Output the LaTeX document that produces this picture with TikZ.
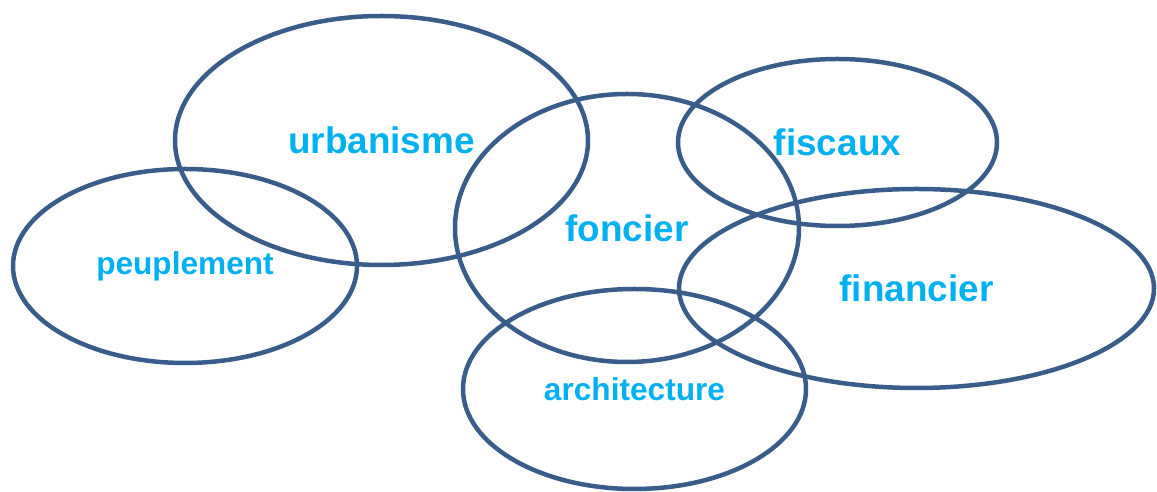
\documentclass[tikz,border=0pt]{standalone}
\usepackage{fontspec}
\setmainfont{Liberation Sans}
\usepackage{xcolor}
\usetikzlibrary{shapes.geometric}
\definecolor{ringblue}{HTML}{385D8A}
\definecolor{labelcyan}{HTML}{00B0F0}
\tikzset{
  ring/.style 2 args={draw=ringblue, line width=0.09cm, ellipse, inner sep=0pt,
    minimum width=#1*0.02cm, minimum height=#2*0.02cm, align=center},
  biglabel/.style={text=labelcyan, font=\bfseries\fontsize{21}{25}\selectfont},
  smalllabel/.style={text=labelcyan, font=\bfseries\fontsize{18}{22}\selectfont}
}
\begin{document}
\begin{tikzpicture}[x=0.02cm, y=-0.02cm]
\useasboundingbox (0,0) rectangle (1157,492);

% Nodes
\node[ring={413}{249}, biglabel] (urb) at (381.5,140.5) {urbanisme};
\node[ring={344}{194}, smalllabel] (peu) at (185,266) {peuplement};
\node[ring={344}{268}, biglabel] (fon) at (627,228) {foncier};
\node[ring={319}{167}, biglabel] (fis) at (837.5,142.5) {fiscaux};
\node[ring={475}{199}, biglabel] (fin) at (916.5,288.5) {financier};
\node[ring={343}{200}, smalllabel] (arc) at (634.5,389) {architecture};

\end{tikzpicture}
\end{document}
